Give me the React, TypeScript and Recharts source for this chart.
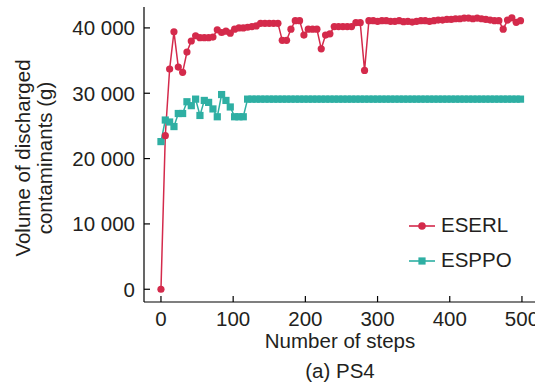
import React from "react";
import { LineChart, Line, XAxis, YAxis } from "recharts";

const steps = [
  0, 6, 12, 18, 24, 30, 36, 42, 48, 54, 60, 66, 72, 78, 84, 90, 96, 102, 108, 114,
  120, 126, 132, 138, 144, 150, 156, 162, 168, 174, 180, 186, 192, 198, 204, 210,
  216, 222, 228, 234, 240, 246, 252, 258, 264, 270, 276, 282, 288, 294, 300, 306,
  312, 318, 324, 330, 336, 342, 348, 354, 360, 366, 372, 378, 384, 390, 396, 402,
  408, 414, 420, 426, 432, 438, 444, 450, 456, 462, 468, 474, 480, 486, 492, 498,
];

const eserl = [
  0, 23500, 33700, 39400, 34000, 33200, 36300, 38000, 38800, 38500, 38500, 38500,
  38600, 39700, 39300, 39500, 39200, 39800, 40000, 40000, 40100, 40200, 40300,
  40700, 40700, 40700, 40700, 40700, 38100, 38100, 39800, 41100, 41100, 38900,
  39800, 39800, 39800, 36800, 38900, 39100, 40200, 40200, 40200, 40200, 40200,
  40800, 40800, 33500, 41100, 41100, 41000, 41100, 41100, 41000, 41000, 41100,
  40950, 41000, 40900, 41000, 41100, 41100, 41000, 41100, 41200, 41200, 41300,
  41300, 41400, 41400, 41500, 41500, 41400, 41500, 41400, 41300, 41200, 41100,
  41100, 39800, 41200, 41550, 40850, 41100,
];

const esppo = [
  22600, 25900, 25600, 24900, 26900, 26900, 28700, 28100, 29100, 26600, 28900,
  28600, 27600, 26400, 29800, 28900, 27900, 26400, 26400, 26400, 29100, 29100,
  29100, 29100, 29100, 29100, 29100, 29100, 29100, 29100, 29100, 29100, 29100,
  29100, 29100, 29100, 29100, 29100, 29100, 29100, 29100, 29100, 29100, 29100,
  29100, 29100, 29100, 29100, 29100, 29100, 29100, 29100, 29100, 29100, 29100,
  29100, 29100, 29100, 29100, 29100, 29100, 29100, 29100, 29100, 29100, 29100,
  29100, 29100, 29100, 29100, 29100, 29100, 29100, 29100, 29100, 29100, 29100,
  29100, 29100, 29100, 29100, 29100, 29100, 29100,
];

const xTicks = [0, 100, 200, 300, 400, 500];
const yTicks = [0, 10000, 20000, 30000, 40000];

const RED = "#d42a4b";
const TEAL = "#2eafa3";
const TEXT = "#231f20";
const FONT = "'Liberation Sans', Arial, sans-serif";
const FS = 20.5;

const data = steps.map((s, i) => ({ step: s, eserl: eserl[i], esppo: esppo[i] }));

const fmt = (v: number) =>
  v >= 1000 ? `${Math.floor(v / 1000)} ${String(v % 1000).padStart(3, "0")}` : String(v);

const SquareDot = (p: any) => (
  <rect key={p.index} x={p.cx - 3.6} y={p.cy - 3.6} width={7.2} height={7.2} fill={TEAL} />
);

const legendItems = [
  { name: "ESERL", color: RED, kind: "circle" },
  { name: "ESPPO", color: TEAL, kind: "square" },
];

const LegendBox = () => (
  <div
    style={{
      position: "absolute",
      left: 409,
      top: 208,
      fontFamily: FONT,
      fontSize: FS,
      color: TEXT,
      lineHeight: 1,
    }}
  >
    {legendItems.map((e) => (
      <div key={e.name} style={{ display: "flex", alignItems: "center", height: 35 }}>
        <svg width={31} height={14} style={{ marginRight: 1 }}>
          <line x1={0} y1={7} x2={26} y2={7} stroke={e.color} strokeWidth={1.6} />
          {e.kind === "circle" ? (
            <circle cx={13} cy={7} r={3.8} fill={e.color} />
          ) : (
            <rect x={9.4} y={3.4} width={7.2} height={7.2} fill={e.color} />
          )}
        </svg>
        <span>{e.name}</span>
      </div>
    ))}
  </div>
);

export default function App() {
  return (
    <div
      style={{
        position: "absolute",
        left: 0,
        top: 0,
        width: 535,
        height: 387,
        overflow: "hidden",
        background: "#fff",
      }}
    >
      <LineChart width={540} height={387} data={data} margin={{ top: 7, right: 0, bottom: 0, left: 0 }}>
        <XAxis
          dataKey="step"
          type="number"
          domain={[-23.5, 525]}
          allowDataOverflow
          ticks={xTicks}
          height={85}
          tickSize={-6}
          tickMargin={15}
          stroke="#000"
          strokeWidth={1.2}
          tick={{ fill: TEXT, fontSize: FS, fontFamily: FONT }}
          label={() => (
            <g fontFamily={FONT} fontSize={FS} fill={TEXT} textAnchor="middle">
              <text x={340} y={348}>Number of steps</text>
              <text x={340} y={378}>(a) PS4</text>
            </g>
          )}
        />
        <YAxis
          type="number"
          domain={[-1950, 43200]}
          allowDataOverflow
          ticks={yTicks}
          width={144}
          tickSize={-6}
          tickMargin={15}
          stroke="#000"
          strokeWidth={1.2}
          tickFormatter={fmt}
          tick={{ fill: TEXT, fontSize: FS, fontFamily: FONT }}
          label={() => (
            <g fontFamily={FONT} fontSize={FS} fill={TEXT} textAnchor="middle">
              <text transform="translate(30,158) rotate(-90)">Volume of discharged</text>
              <text transform="translate(52,158) rotate(-90)">contaminants (g)</text>
            </g>
          )}
        />
        <Line dataKey="esppo" stroke={TEAL} strokeWidth={1.5} dot={SquareDot} isAnimationActive={false} />
        <Line
          dataKey="eserl"
          stroke={RED}
          strokeWidth={1.5}
          dot={{ r: 3.6, fill: RED, stroke: RED, strokeWidth: 0 }}
          isAnimationActive={false}
        />
      </LineChart>
      <LegendBox />
    </div>
  );
}
